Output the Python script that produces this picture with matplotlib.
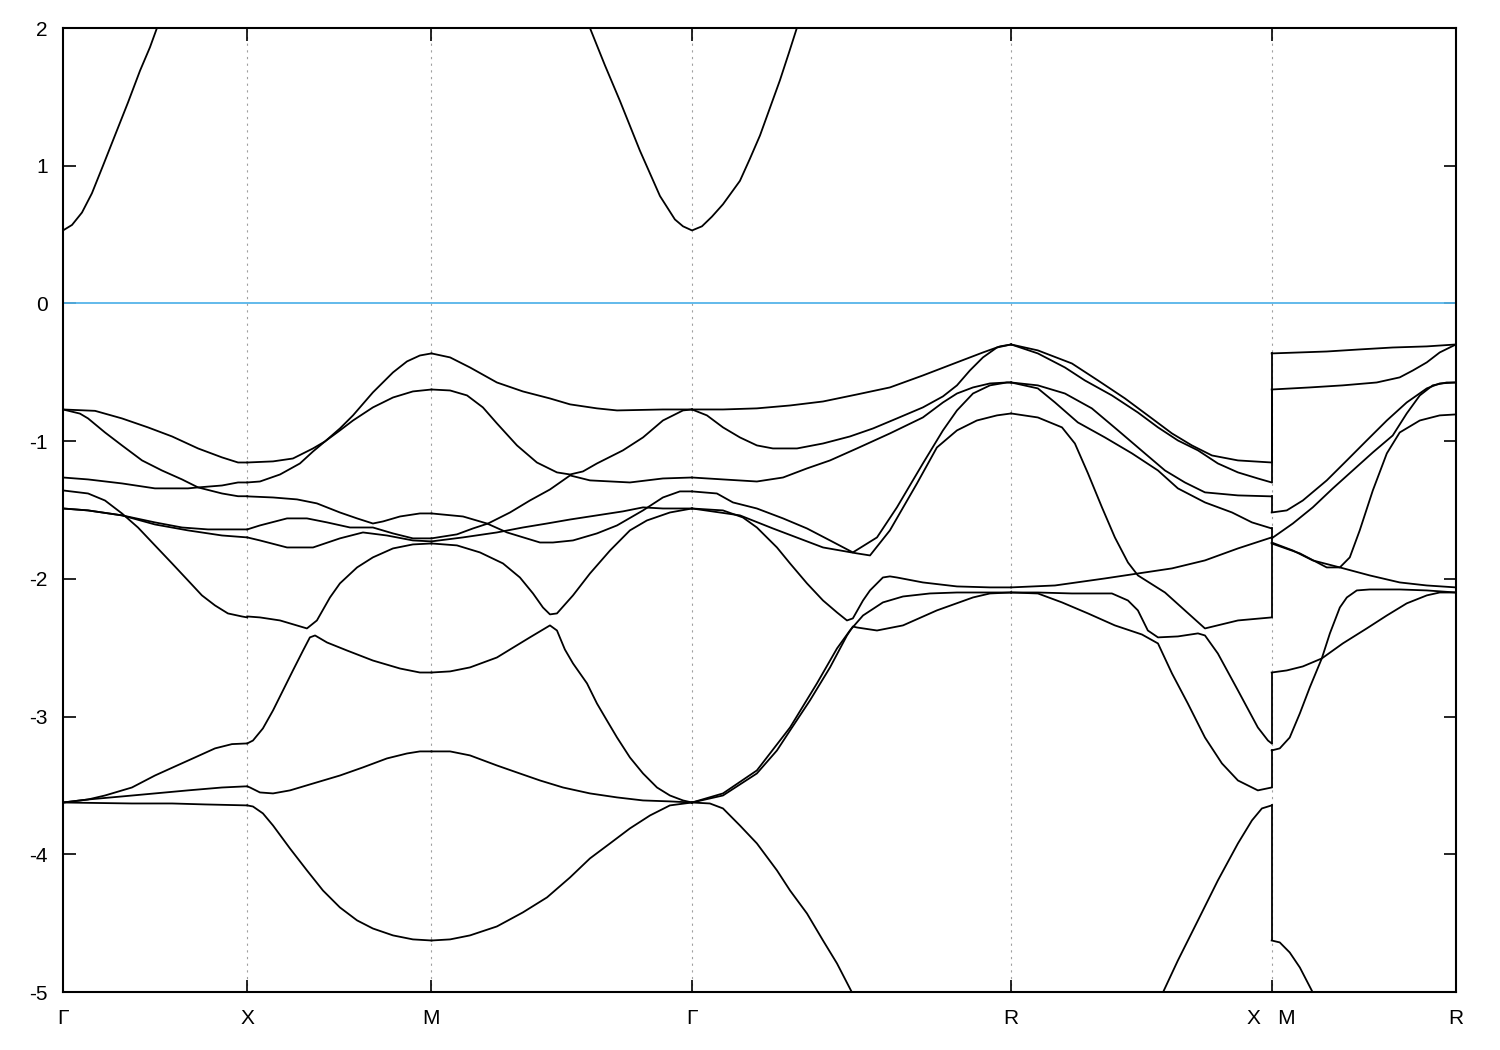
import numpy as np
import matplotlib.pyplot as plt

plt.rcParams['font.family'] = ['Liberation Sans', 'DejaVu Sans']
plt.rcParams['axes.unicode_minus'] = False

# high symmetry points along the path (units of G-X length)
kG, kX, kM = 0.0, 1.0, 2.0
kG2 = kM + np.sqrt(2)
kR = kG2 + np.sqrt(3)
kX2 = kR + np.sqrt(2)
kR2 = kX2 + 1.0
tick_pos = [kG, kX, kM, kG2, kR, kX2, kR2]
tick_lab = ["Γ", "X", "M", "Γ", "R", "X   M", "R"]

# ---- conduction band (near Gamma) ----
cb_gx = ([0, 0.049, 0.103, 0.157, 0.217, 0.282, 0.353, 0.418, 0.472, 0.510, 0.554],
         [0.53, 0.57, 0.66, 0.80, 1.0, 1.22, 1.46, 1.69, 1.86, 2.0, 2.15])
cb_mgr = ([2.822, 2.860, 2.941, 3.023, 3.131, 3.240, 3.321, 3.365, 3.414, 3.468, 3.522,
           3.582, 3.674, 3.728, 3.783, 3.837, 3.891, 3.940, 3.983, 4.027],
          [2.15, 2.0, 1.73, 1.47, 1.11, 0.78, 0.61, 0.56, 0.53, 0.56, 0.63,
           0.72, 0.89, 1.05, 1.22, 1.42, 1.62, 1.82, 2.0, 2.17])

# ---- Gamma - X ----
gx1 = ([0, 0.174, 0.320, 0.461, 0.592, 0.733, 0.863, 0.950, 1.0],
       [-0.77, -0.78, -0.835, -0.90, -0.966, -1.053, -1.118, -1.155, -1.155])
gx2 = ([0, 0.092, 0.136, 0.228, 0.320, 0.429, 0.537, 0.646, 0.733, 0.863, 0.950, 1.0],
       [-0.77, -0.80, -0.835, -0.937, -1.031, -1.14, -1.213, -1.278, -1.336, -1.38, -1.40, -1.40])
gx3 = ([0, 0.136, 0.320, 0.499, 0.678, 0.733, 0.863, 0.950, 1.0],
       [-1.264, -1.278, -1.307, -1.343, -1.343, -1.336, -1.322, -1.30, -1.30])
gx4 = ([0, 0.136, 0.228, 0.320, 0.407, 0.499, 0.592, 0.678, 0.754, 0.825, 0.895, 0.971, 1.0],
       [-1.358, -1.38, -1.431, -1.525, -1.627, -1.757, -1.888, -2.011, -2.12, -2.193, -2.251, -2.273, -2.28])
gx5 = ([0, 0.136, 0.320, 0.499, 0.646, 0.787, 1.0],
       [-1.489, -1.503, -1.539, -1.59, -1.627, -1.641, -1.641])
gx6 = ([0, 0.136, 0.320, 0.499, 0.678, 0.863, 1.0],
       [-1.489, -1.503, -1.539, -1.605, -1.648, -1.685, -1.699])
gx7 = ([0, 0.136, 0.228, 0.374, 0.499, 0.608, 0.716, 0.825, 0.917, 1.0],
       [-3.624, -3.602, -3.573, -3.515, -3.428, -3.362, -3.297, -3.231, -3.20, -3.195])
gx8 = ([0, 0.136, 0.320, 0.499, 0.678, 0.863, 0.988, 1.0],
       [-3.624, -3.602, -3.58, -3.558, -3.536, -3.515, -3.507, -3.507])
gx9 = ([0, 0.374, 0.592, 0.771, 1.0],
       [-3.624, -3.631, -3.631, -3.638, -3.645])

# ---- X - M ----
xm1 = ([1.0, 1.140, 1.248, 1.357, 1.422, 1.503, 1.574, 1.682, 1.791, 1.899, 2.0],
       [-1.155, -1.147, -1.126, -1.053, -1.002, -0.922, -0.850, -0.755, -0.683, -0.639, -0.625])
xm2 = ([1.0, 1.069, 1.178, 1.286, 1.357, 1.422, 1.503, 1.574, 1.682, 1.791, 1.867, 1.937, 2.0],
       [-1.30, -1.293, -1.242, -1.162, -1.075, -1.002, -0.908, -0.813, -0.646, -0.501, -0.421, -0.378, -0.363])
xm3 = ([1.0, 1.140, 1.270, 1.378, 1.503, 1.596, 1.682, 1.737, 1.829, 1.937, 2.0],
       [-1.401, -1.409, -1.423, -1.452, -1.518, -1.561, -1.598, -1.583, -1.547, -1.525, -1.525])
xm4 = ([1.0, 1.069, 1.216, 1.324, 1.433, 1.558, 1.682, 1.791, 1.899, 2.0],
       [-1.641, -1.612, -1.561, -1.561, -1.590, -1.627, -1.627, -1.670, -1.706, -1.706])
xm5 = ([1.0, 1.069, 1.216, 1.357, 1.503, 1.628, 1.758, 1.899, 2.0],
       [-1.699, -1.721, -1.772, -1.772, -1.706, -1.663, -1.685, -1.721, -1.728])
xm6 = ([1.0, 1.069, 1.178, 1.324, 1.378, 1.449, 1.503, 1.596, 1.682, 1.791, 1.899, 2.0],
       [-2.273, -2.280, -2.302, -2.360, -2.302, -2.135, -2.033, -1.917, -1.844, -1.779, -1.750, -1.743])
xm7 = ([1.0, 1.031, 1.085, 1.140, 1.194, 1.248, 1.303, 1.340, 1.368, 1.433, 1.541, 1.682, 1.829, 1.937, 2.0],
       [-3.195, -3.174, -3.086, -2.955, -2.81, -2.665, -2.520, -2.425, -2.411, -2.462, -2.520, -2.593, -2.651, -2.680, -2.680])
xm8 = ([1.0, 1.015, 1.069, 1.140, 1.232, 1.357, 1.503, 1.628, 1.758, 1.867, 1.937, 2.0],
       [-3.507, -3.515, -3.551, -3.558, -3.536, -3.486, -3.428, -3.369, -3.304, -3.268, -3.253, -3.253])
xm9 = ([1.0, 1.031, 1.085, 1.140, 1.232, 1.324, 1.411, 1.503, 1.596, 1.682, 1.791, 1.899, 2.0],
       [-3.645, -3.653, -3.703, -3.791, -3.958, -4.117, -4.263, -4.386, -4.480, -4.539, -4.589, -4.618, -4.626])

# ---- M - Gamma ----
mg1 = ([2.0, 2.101, 2.209, 2.355, 2.496, 2.643, 2.752, 2.898, 3.007, 3.256, 3.414],
       [-0.363, -0.392, -0.465, -0.574, -0.639, -0.690, -0.733, -0.762, -0.777, -0.770, -0.770])
mg2 = ([2.0, 2.101, 2.193, 2.279, 2.355, 2.464, 2.572, 2.681, 2.752, 2.822, 2.898, 3.039, 3.148, 3.256, 3.365, 3.414],
       [-0.625, -0.632, -0.668, -0.755, -0.871, -1.031, -1.155, -1.227, -1.242, -1.220, -1.162, -1.067, -0.973, -0.850, -0.777, -0.770])
mg3 = ([2.0, 2.138, 2.225, 2.307, 2.426, 2.534, 2.643, 2.752, 2.860, 3.077, 3.256, 3.414],
       [-1.706, -1.677, -1.634, -1.598, -1.518, -1.431, -1.351, -1.249, -1.285, -1.300, -1.271, -1.264])
mg4 = ([2.0, 2.171, 2.301, 2.410, 2.589, 2.659, 2.768, 2.898, 3.007, 3.148, 3.256, 3.348, 3.414],
       [-1.525, -1.547, -1.598, -1.663, -1.736, -1.736, -1.721, -1.670, -1.612, -1.503, -1.409, -1.365, -1.365])
mg5 = ([2.0, 2.171, 2.355, 2.496, 2.627, 2.752, 2.898, 3.039, 3.148, 3.256, 3.414],
       [-1.728, -1.699, -1.663, -1.627, -1.598, -1.569, -1.539, -1.510, -1.481, -1.489, -1.489])
mg6 = ([2.0, 2.138, 2.263, 2.388, 2.480, 2.551, 2.605, 2.643, 2.681, 2.768, 2.860, 2.969, 3.077, 3.169, 3.294, 3.414],
       [-1.743, -1.757, -1.808, -1.888, -1.990, -2.106, -2.208, -2.258, -2.251, -2.120, -1.961, -1.794, -1.648, -1.576, -1.518, -1.489])
mg7 = ([2.0, 2.101, 2.209, 2.355, 2.426, 2.534, 2.643, 2.681, 2.724, 2.768, 2.844, 2.898, 2.952, 3.007, 3.077, 3.148, 3.224, 3.294, 3.365, 3.414],
       [-2.680, -2.672, -2.643, -2.571, -2.513, -2.425, -2.338, -2.375, -2.513, -2.614, -2.759, -2.905, -3.028, -3.152, -3.297, -3.413, -3.515, -3.573, -3.609, -3.624])
mg8 = ([2.0, 2.101, 2.209, 2.355, 2.464, 2.589, 2.714, 2.860, 3.007, 3.148, 3.294, 3.414],
       [-3.253, -3.253, -3.282, -3.355, -3.406, -3.464, -3.515, -3.558, -3.587, -3.609, -3.616, -3.624])
mg9 = ([2.0, 2.101, 2.209, 2.355, 2.496, 2.627, 2.752, 2.860, 2.969, 3.077, 3.186, 3.294, 3.414],
       [-4.626, -4.618, -4.589, -4.524, -4.422, -4.313, -4.168, -4.030, -3.921, -3.812, -3.718, -3.645, -3.624])

# ---- Gamma - R ----
gr1 = ([3.414, 3.582, 3.766, 3.946, 4.125, 4.309, 4.488, 4.667, 4.852, 4.993, 5.085, 5.146],
       [-0.770, -0.770, -0.762, -0.741, -0.712, -0.661, -0.610, -0.523, -0.428, -0.356, -0.312, -0.298])
gr2 = ([3.414, 3.495, 3.582, 3.674, 3.766, 3.853, 3.984, 4.125, 4.271, 4.396, 4.526, 4.667, 4.776, 4.852, 4.922, 4.993, 5.069, 5.146],
       [-0.770, -0.813, -0.900, -0.973, -1.031, -1.053, -1.053, -1.017, -0.966, -0.908, -0.835, -0.755, -0.675, -0.595, -0.487, -0.392, -0.320, -0.298])
gr3 = ([3.414, 3.582, 3.766, 3.908, 4.038, 4.163, 4.309, 4.488, 4.667, 4.776, 4.852, 4.939, 5.031, 5.123, 5.146],
       [-1.264, -1.278, -1.293, -1.264, -1.198, -1.140, -1.053, -0.944, -0.828, -0.719, -0.654, -0.610, -0.581, -0.574, -0.574])
gr4 = ([3.414, 3.549, 3.636, 3.766, 3.908, 4.038, 4.163, 4.287, 4.418, 4.526, 4.667, 4.776, 4.852, 4.939, 5.031, 5.123, 5.146],
       [-1.365, -1.380, -1.445, -1.489, -1.561, -1.634, -1.721, -1.808, -1.699, -1.481, -1.162, -0.922, -0.777, -0.654, -0.595, -0.574, -0.574])
gr5 = ([3.414, 3.674, 3.853, 4.125, 4.309, 4.380, 4.488, 4.635, 4.743, 4.852, 4.960, 5.069, 5.146],
       [-1.489, -1.539, -1.634, -1.772, -1.815, -1.830, -1.648, -1.307, -1.046, -0.922, -0.850, -0.813, -0.799])
gr6 = ([3.414, 3.582, 3.690, 3.766, 3.875, 3.946, 4.038, 4.125, 4.201, 4.255, 4.287, 4.342, 4.380, 4.450, 4.488, 4.526, 4.667, 4.852, 5.031, 5.146],
       [-1.489, -1.503, -1.554, -1.627, -1.772, -1.888, -2.033, -2.157, -2.244, -2.302, -2.287, -2.157, -2.084, -1.990, -1.982, -1.990, -2.026, -2.055, -2.062, -2.062])
gr7 = ([3.414, 3.582, 3.766, 3.875, 3.946, 4.054, 4.163, 4.255, 4.287, 4.309, 4.418, 4.559, 4.743, 4.939, 5.031, 5.146],
       [-3.624, -3.573, -3.413, -3.246, -3.101, -2.883, -2.643, -2.411, -2.346, -2.353, -2.375, -2.338, -2.229, -2.135, -2.106, -2.099])
gr8 = ([3.414, 3.582, 3.766, 3.946, 4.092, 4.201, 4.271, 4.342, 4.450, 4.559, 4.705, 4.852, 5.146],
       [-3.624, -3.558, -3.391, -3.079, -2.759, -2.505, -2.375, -2.266, -2.171, -2.128, -2.106, -2.099, -2.099])
gr9 = ([3.414, 3.511, 3.582, 3.674, 3.766, 3.875, 3.946, 4.038, 4.125, 4.201, 4.282, 4.325],
       [-3.624, -3.631, -3.667, -3.791, -3.921, -4.117, -4.263, -4.430, -4.626, -4.793, -5.003, -5.098])

# ---- R - X ----
rx1 = ([5.146, 5.291, 5.476, 5.617, 5.764, 5.910, 6.019, 6.127, 6.236, 6.377, 6.560],
       [-0.298, -0.341, -0.436, -0.559, -0.690, -0.835, -0.944, -1.031, -1.104, -1.140, -1.155])
rx2 = ([5.146, 5.291, 5.438, 5.546, 5.693, 5.834, 5.943, 6.051, 6.160, 6.268, 6.377, 6.485, 6.560],
       [-0.298, -0.363, -0.465, -0.559, -0.668, -0.792, -0.900, -0.995, -1.067, -1.162, -1.227, -1.271, -1.300])
rx3 = ([5.146, 5.291, 5.438, 5.584, 5.726, 5.872, 5.981, 6.089, 6.198, 6.377, 6.560],
       [-0.574, -0.595, -0.654, -0.762, -0.922, -1.089, -1.213, -1.300, -1.372, -1.394, -1.401])
rx4 = ([5.146, 5.291, 5.384, 5.508, 5.655, 5.802, 5.943, 6.051, 6.198, 6.345, 6.453, 6.560],
       [-0.574, -0.617, -0.719, -0.864, -0.973, -1.089, -1.213, -1.343, -1.445, -1.518, -1.590, -1.634])
rx5 = ([5.146, 5.291, 5.422, 5.492, 5.563, 5.639, 5.709, 5.780, 5.834, 5.981, 6.089, 6.198, 6.377, 6.560],
       [-0.799, -0.828, -0.900, -1.017, -1.234, -1.481, -1.699, -1.881, -1.975, -2.099, -2.229, -2.360, -2.302, -2.280])
rx6 = ([5.146, 5.384, 5.655, 5.834, 6.019, 6.198, 6.377, 6.560],
       [-2.062, -2.048, -1.997, -1.961, -1.924, -1.866, -1.779, -1.699])
rx7 = ([5.146, 5.291, 5.476, 5.693, 5.780, 5.834, 5.888, 5.943, 6.051, 6.160, 6.198, 6.268, 6.377, 6.485, 6.540, 6.560],
       [-2.099, -2.099, -2.106, -2.106, -2.157, -2.229, -2.375, -2.425, -2.418, -2.396, -2.411, -2.542, -2.810, -3.079, -3.174, -3.195])
rx8 = ([5.146, 5.291, 5.422, 5.563, 5.709, 5.856, 5.943, 6.019, 6.105, 6.198, 6.290, 6.377, 6.485, 6.560],
       [-2.099, -2.106, -2.171, -2.251, -2.338, -2.404, -2.469, -2.687, -2.905, -3.152, -3.340, -3.464, -3.536, -3.515])
rx9 = ([5.943, 5.970, 6.051, 6.160, 6.268, 6.377, 6.453, 6.507, 6.560],
       [-5.076, -5.003, -4.771, -4.480, -4.190, -3.921, -3.754, -3.667, -3.645])

# ---- M - R ----
mr1 = ([6.560, 6.859, 7.038, 7.217, 7.402, 7.560],
       [-0.363, -0.349, -0.334, -0.320, -0.312, -0.298])
mr2 = ([6.560, 6.767, 6.946, 7.130, 7.255, 7.326, 7.402, 7.472, 7.560],
       [-0.625, -0.610, -0.595, -0.574, -0.537, -0.487, -0.428, -0.356, -0.298])
mr3 = ([6.560, 6.642, 6.729, 6.859, 6.968, 7.076, 7.185, 7.293, 7.402, 7.472, 7.560],
       [-1.518, -1.503, -1.431, -1.285, -1.140, -0.995, -0.850, -0.719, -0.617, -0.581, -0.574])
mr4 = ([6.560, 6.675, 6.783, 6.892, 7.000, 7.109, 7.217, 7.293, 7.364, 7.434, 7.510, 7.560],
       [-1.706, -1.598, -1.481, -1.343, -1.213, -1.082, -0.959, -0.799, -0.668, -0.595, -0.574, -0.574])
mr5 = ([6.560, 6.675, 6.783, 6.930, 7.092, 7.255, 7.402, 7.560],
       [-1.736, -1.794, -1.866, -1.917, -1.975, -2.026, -2.048, -2.062])
mr6 = ([6.560, 6.713, 6.859, 6.930, 6.984, 7.038, 7.109, 7.185, 7.255, 7.364, 7.472, 7.560],
       [-1.743, -1.815, -1.917, -1.917, -1.844, -1.648, -1.358, -1.089, -0.937, -0.850, -0.813, -0.806])
mr7 = ([6.560, 6.642, 6.729, 6.832, 6.946, 7.076, 7.185, 7.293, 7.402, 7.472, 7.560],
       [-2.680, -2.665, -2.636, -2.578, -2.469, -2.360, -2.266, -2.178, -2.120, -2.099, -2.099])
mr8 = ([6.560, 6.604, 6.658, 6.713, 6.767, 6.832, 6.876, 6.930, 6.968, 7.022, 7.092, 7.255, 7.402, 7.560],
       [-3.246, -3.231, -3.152, -2.977, -2.788, -2.578, -2.396, -2.208, -2.135, -2.084, -2.077, -2.077, -2.084, -2.099])
mr9 = ([6.560, 6.604, 6.658, 6.713, 6.783, 6.810],
       [-4.626, -4.640, -4.713, -4.822, -5.003, -5.076])

# band energies on both sides of the X|M jump (same band index)
jump_x = [-1.155, -1.300, -1.401, -1.634, -1.699, -2.280, -3.195, -3.515, -3.645]
jump_m = [-0.363, -0.625, -1.518, -1.706, -1.736, -1.743, -2.680, -3.246, -4.626]

curves = [cb_gx, cb_mgr,
          gx1, gx2, gx3, gx4, gx5, gx6, gx7, gx8, gx9,
          xm1, xm2, xm3, xm4, xm5, xm6, xm7, xm8, xm9,
          mg1, mg2, mg3, mg4, mg5, mg6, mg7, mg8, mg9,
          gr1, gr2, gr3, gr4, gr5, gr6, gr7, gr8, gr9,
          rx1, rx2, rx3, rx4, rx5, rx6, rx7, rx8, rx9,
          mr1, mr2, mr3, mr4, mr5, mr6, mr7, mr8, mr9]

fig = plt.figure(figsize=(15, 10.5), dpi=100)
ax = fig.add_axes([63/1500, 1-992/1050, 1393/1500, 964/1050])

# grid lines at the high-symmetry points
for k in tick_pos[1:-1]:
    ax.axvline(k, color='#a0a0a0', lw=0.8, ls=(0, (2, 4)), zorder=1)

for k, e in curves:
    ax.plot(k, e, color='black', lw=1.3, zorder=3)
for a, b in zip(jump_x, jump_m):
    ax.plot([kX2, kX2], [a, b], color='black', lw=1.3, zorder=3)

# Fermi level
ax.axhline(0.0, color='#56b4e9', lw=1.3, zorder=2)

ax.set_xlim(kG, kR2)
ax.set_ylim(-5, 2)
ax.set_xticks(tick_pos)
ax.set_xticklabels(tick_lab)
ax.set_yticks(range(-5, 3))
ax.tick_params(axis='both', direction='in', length=9, width=1.2, labelsize=15,
               top=True, right=True)
ax.tick_params(axis='x', pad=12)
ax.tick_params(axis='y', pad=11)
for s in ax.spines.values():
    s.set_linewidth(1.5)

plt.savefig('out.png', dpi=100)
